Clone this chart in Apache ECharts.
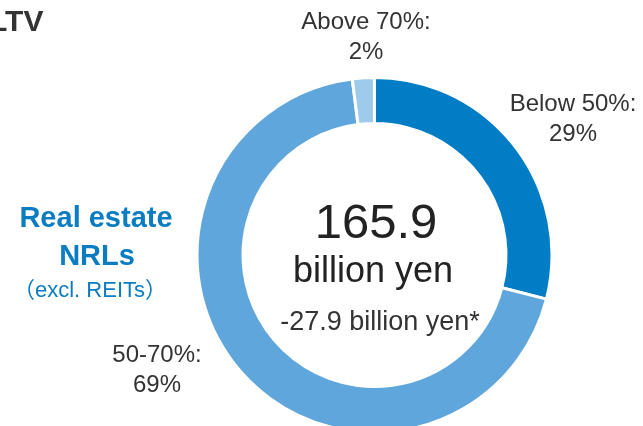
<!DOCTYPE html>
<html>
<head>
<meta charset="utf-8">
<script src="https://cdn.jsdelivr.net/npm/echarts@6/dist/echarts.min.js"></script>
<style>
  html, body { margin: 0; padding: 0; background: #fff; }
  #chart { width: 643px; height: 426px; }
</style>
</head>
<body>
<div id="chart"></div>
<script>
// LTV breakdown of real estate non-recourse loans
const categories = ['Below 50%', '50-70%', 'Above 70%'];
const shares = [29, 69, 2];               // percent of total
const sliceColors = ['#007dc5', '#5fa6dd', '#9ecbec'];
const totalLabel = '165.9';
const totalUnit = 'billion yen';
const changeLabel = '-27.9 billion yen*';

const FONT = '"Liberation Sans", Arial, sans-serif';
const CJK_FONT = '"Liberation Sans", "Noto Sans CJK JP", Arial, sans-serif';
const TEXT = '#333333';
const BLUE = '#0a7dc2';

// label anchor points for each slice (center of the two-line label)
const labelAnchors = [
  { x: 573, y: 119 },
  { x: 157, y: 370 },
  { x: 366, y: 37 }
];

const chart = echarts.init(document.getElementById('chart'), null, { renderer: 'canvas' });

chart.setOption({
  animation: false,
  backgroundColor: '#ffffff',
  series: [{
    type: 'pie',
    center: [374.5, 255],
    radius: [131.5, 177.5],
    startAngle: 90,
    clockwise: true,
    silent: true,
    avoidLabelOverlap: false,
    itemStyle: { borderColor: '#ffffff', borderWidth: 3 },
    label: {
      show: true,
      formatter: p => p.name + ':\n' + p.value + '%',
      fontFamily: FONT,
      fontSize: 24,
      lineHeight: 30,
      color: TEXT,
      align: 'center'
    },
    labelLine: { show: false },
    labelLayout: p => ({
      x: labelAnchors[p.dataIndex].x,
      y: labelAnchors[p.dataIndex].y,
      align: 'center',
      verticalAlign: 'middle'
    }),
    data: categories.map((c, i) => ({
      name: c,
      value: shares[i],
      itemStyle: { color: sliceColors[i] }
    }))
  }],
  graphic: [
    { type: 'text', left: -11, top: 8,
      style: { text: 'LTV', font: 'bold 30px ' + FONT, fill: TEXT } },
    { type: 'text', x: 96, y: 219,
      style: { text: 'Real estate', font: 'bold 29px ' + FONT, fill: BLUE,
               align: 'center', verticalAlign: 'middle' } },
    { type: 'text', x: 97, y: 257,
      style: { text: 'NRLs', font: 'bold 29px ' + FONT, fill: BLUE,
               align: 'center', verticalAlign: 'middle' } },
    { type: 'text', x: 90, y: 291,
      style: { text: '\uFF08excl. REITs\uFF09', font: '22px ' + CJK_FONT, fill: BLUE,
               align: 'center', verticalAlign: 'middle' } },
    { type: 'text', x: 376, y: 224,
      style: { text: totalLabel, font: '49px ' + FONT, fill: '#222222',
               align: 'center', verticalAlign: 'middle' } },
    { type: 'text', x: 373, y: 272,
      style: { text: totalUnit, font: '36px ' + FONT, fill: '#222222',
               align: 'center', verticalAlign: 'middle' } },
    { type: 'text', x: 380, y: 323,
      style: { text: changeLabel, font: '27px ' + FONT, fill: TEXT,
               align: 'center', verticalAlign: 'middle' } }
  ]
});
</script>
</body>
</html>
